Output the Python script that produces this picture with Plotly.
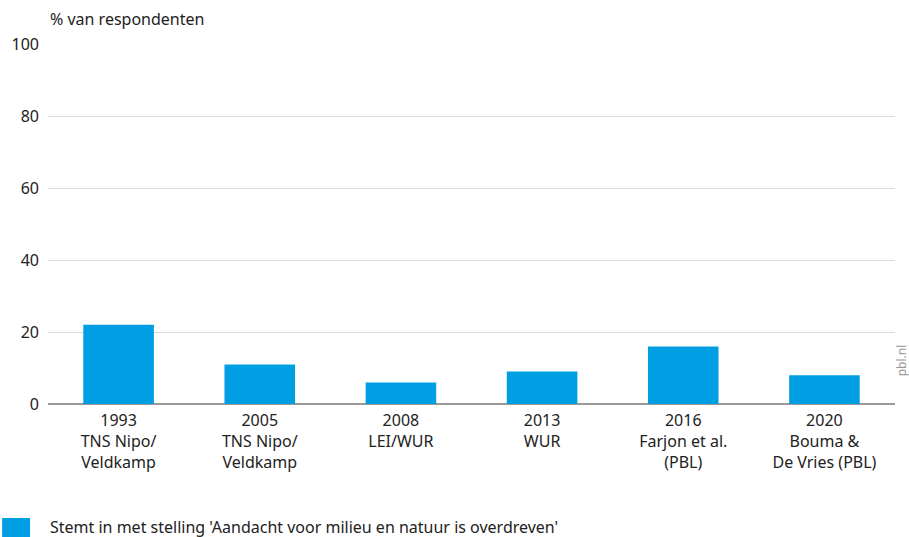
import plotly.graph_objects as go

# Gegevens
jaren = ['1993', '2005', '2008', '2013', '2016', '2020']
bronnen = ['TNS Nipo/<br>Veldkamp', 'TNS Nipo/<br>Veldkamp', 'LEI/WUR', 'WUR',
           'Farjon et al.<br>(PBL)', 'Bouma &<br>De Vries (PBL)']
waarden = [22, 11, 6, 9, 16, 8]
reeks = "Stemt in met stelling 'Aandacht voor milieu en natuur is overdreven'"
y_ticks = [0, 20, 40, 60, 80, 100]

kleur = '#009fe3'
labels = [j + '<br>' + b for j, b in zip(jaren, bronnen)]

fig = go.Figure()
fig.add_trace(go.Bar(x=labels, y=waarden, name=reeks, marker_color=kleur,
                     marker_line_width=0, showlegend=False))

fig.update_layout(
    width=909, height=537,
    margin=dict(l=46, r=14, t=44, b=133),
    plot_bgcolor='white', paper_bgcolor='white',
    font=dict(family='Noto Sans', size=16, color='#222222'),
    bargap=0.5,
)
fig.update_yaxes(range=[0, 100], tickvals=y_ticks, gridcolor='#dcdcdc',
                 zeroline=True, zerolinecolor='#999999', zerolinewidth=1.5,
                 ticks='', ticklabelstandoff=8, showline=False)
fig.update_xaxes(showline=False, ticks='', ticklabelstandoff=5)

# Titel van de y-as
fig.add_annotation(text='% van respondenten', xref='paper', yref='paper',
                   x=0, y=1, yshift=12, xanchor='left', yanchor='bottom',
                   showarrow=False, font=dict(size=16))

# Legenda
fig.add_shape(type='rect', xref='paper', yref='paper',
              x0=-46 / 849, x1=-18 / 849, y0=-133 / 360, y1=-114 / 360,
              fillcolor=kleur, line_width=0)
fig.add_annotation(text=reeks, xref='paper', yref='paper', x=0, y=-123 / 360,
                   xanchor='left', yanchor='middle', showarrow=False,
                   font=dict(size=16))

# Bronvermelding
fig.add_annotation(text='pbl.nl', xref='paper', yref='paper', x=1, xshift=17,
                   y=0.07, textangle=-90, showarrow=False,
                   font=dict(size=12, color='#999999'))

# Geen marge rond de pagina, geen modebar
fig.write_html('out.html', config={'displayModeBar': False},
               post_script="document.body.style.margin='0';")
